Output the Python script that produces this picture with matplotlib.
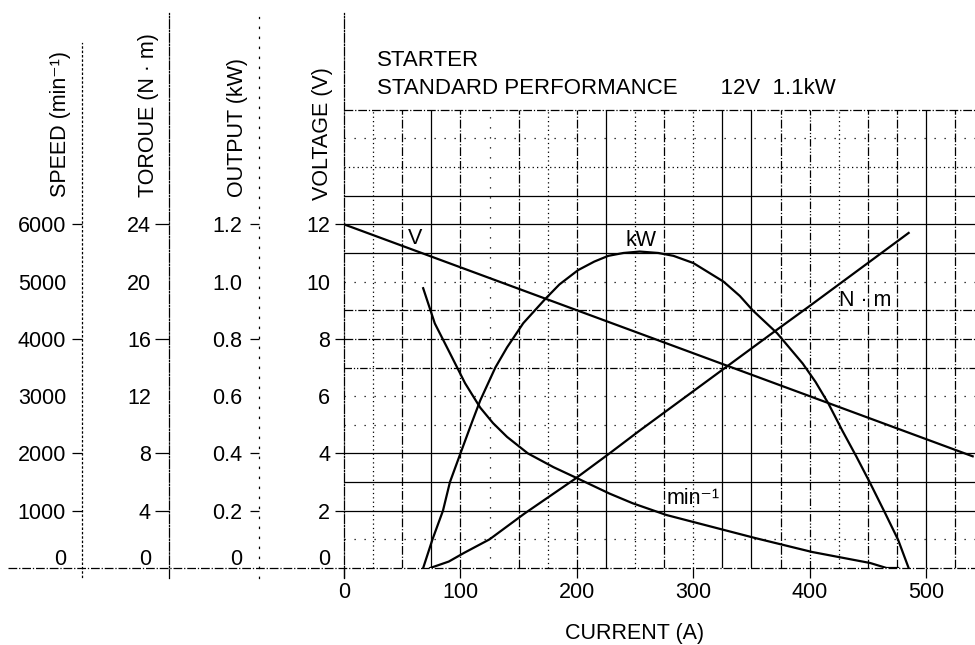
import matplotlib
matplotlib.use("Agg")
import matplotlib.pyplot as plt
from matplotlib.transforms import ScaledTranslation

plt.rcParams['font.family'] = ['Liberation Sans', 'DejaVu Sans']
plt.rcParams['font.size'] = 15.5

# ---- data ----
current_v = [0, 100, 200, 300, 400, 500, 540]
voltage = [12.0, 10.5, 9.0, 7.5, 6.0, 4.5, 3.9]

current_kw = [68, 76, 85, 91, 100, 110, 117, 130, 140, 154, 173, 185, 201, 215, 227,
              240, 254, 270, 283, 300, 326, 340, 351, 372, 394, 405, 416, 428,
              440, 452, 465, 476, 485]
output_kw = [0, 0.10, 0.20, 0.30, 0.40, 0.51, 0.585, 0.70, 0.77, 0.855, 0.94, 0.99,
             1.04, 1.07, 1.09, 1.10, 1.105, 1.10, 1.09, 1.065, 1.00, 0.95, 0.90,
             0.82, 0.714, 0.65, 0.575, 0.48, 0.39, 0.296, 0.19, 0.098, 0]

current_nm = [74, 90, 103, 125, 155, 198, 228, 254, 327, 370, 400, 455, 485]
torque_nm = [0, 0.45, 1.05, 2.0, 3.8, 6.2, 8.0, 9.6, 13.96, 16.53, 18.3, 21.6, 23.4]

current_rpm = [68, 78, 91, 104, 117, 128, 140, 158, 180, 200, 228, 248, 277,
               353, 402, 452, 466, 476]
speed_rpm = [4885, 4270, 3750, 3226, 2800, 2530, 2290, 2000, 1760, 1570, 1300,
             1130, 925, 524, 280, 87, 0, 0]

current_ticks = [0, 100, 200, 300, 400, 500]
volt_ticks = [0, 2, 4, 6, 8, 10, 12]
speed_ticks = [0, 1000, 2000, 3000, 4000, 5000, 6000]
torque_ticks = [0, 4, 8, 12, 16, 20, 24]
output_ticks = [0, 0.2, 0.4, 0.6, 0.8, 1.0, 1.2]
output_labels = ['0', '0.2', '0.4', '0.6', '0.8', '1.0', '1.2']

# grid line styles, 25 A steps (25..525) and 1 V steps (1..16)
vgrid = ['dotted', 'dashdot', 'solid', 'dashdot', 'sparse', 'dashdot', 'dotted',
         'dashdot', 'solid', 'dotted', 'dashdot', 'dotted', 'solid', 'solid',
         'dashdot', 'dashdot2', 'dotted', 'dashdot', 'dashdot', 'solid', 'dashdot']
hgrid = ['sparse', 'solid', 'solid', 'solid', 'sparse', 'sparse', 'dashdot2',
         'dashdot', 'dashdot', 'sparse', 'solid', 'solid', 'solid', 'dotted',
         'sparse', 'dashdot']

LS = {
    'solid': '-',
    'dashdot': (0, (7, 1.5, 1, 1.5)),
    'dashdot2': (0, (6, 1.5, 1, 1.5, 1, 1.5)),
    'dotted': (0, (1, 2.5)),
    'sparse': (0, (1, 7)),
}

W, H = 975, 645
left, right, bottom, top = 344, 975, 568, 13
vtop = 19.38

fig = plt.figure(figsize=(W / 100, H / 100), dpi=100)
ax = fig.add_axes([left / W, (H - bottom) / H, (right - left) / W, (bottom - top) / H])
ax.set_xlim(0, 542)
ax.set_ylim(0, vtop)

# grid
for i, st in enumerate(vgrid):
    ax.vlines(25 * (i + 1), 0, 16, colors='k', linewidth=0.9, linestyles=[LS[st]])
for i, st in enumerate(hgrid):
    ax.axhline(i + 1, color='k', linewidth=0.9, linestyle=LS[st])

# base line running under all scales
ax.plot([-0.5325, 1], [0, 0], transform=ax.get_yaxis_transform(), color='k',
        linewidth=0.9, linestyle=LS['dashdot'], clip_on=False)

for s in ['top', 'right', 'bottom']:
    ax.spines[s].set_visible(False)

# curves
lw = 1.6
ax.plot(current_v, voltage, color='k', linewidth=lw)
ax.plot(current_kw, [p * 10 for p in output_kw], color='k', linewidth=lw)
ax.plot(current_nm, [t / 2 for t in torque_nm], color='k', linewidth=lw)
ax.plot(current_rpm, [s / 500 for s in speed_rpm], color='k', linewidth=lw)

ax.text(61, 11.52, 'V', ha='center', va='center', fontsize=15.5)
ax.text(255, 11.44, 'kW', ha='center', va='center', fontsize=15.5)
ax.text(448, 9.35, 'N · m', ha='center', va='center', fontsize=15.5)
ax.text(300, 2.43, 'min⁻¹', ha='center', va='center', fontsize=15.5)

ax.text(28.4, 17.73, 'STARTER', ha='left', va='center', fontsize=16)
ax.text(28.4, 16.75, 'STANDARD PERFORMANCE       12V  1.1kW', ha='left',
        va='center', fontsize=16)

# current axis
ax.set_xticks(current_ticks)
ax.tick_params(axis='x', direction='out', length=7, width=0.9, pad=3)
ax.set_xlabel('CURRENT (A)', fontsize=15.5)
ax.xaxis.set_label_coords(0.46, -0.1)


def setup_scale(a, ticks, labels, marked, spine_x, spine_ls, bounds,
                pad, mark_len, label_text, label_x, label_y):
    a.yaxis.remove_overlapping_locs = False
    a.set_yticks(ticks)
    a.set_yticklabels(labels)
    a.set_yticks(marked, minor=True)
    a.yaxis.set_ticks_position('left')
    a.tick_params(axis='y', which='major', length=0, pad=pad)
    a.tick_params(axis='y', which='minor', length=mark_len, width=0.9,
                  direction='out')
    sp = a.spines['left']
    sp.set_position(('axes', spine_x))
    sp.set_linestyle(spine_ls)
    sp.set_linewidth(0.9)
    sp.set_bounds(*bounds)
    a.set_ylabel(label_text, fontsize=15.5)
    a.yaxis.label.set_ha('left')
    a.yaxis.label.set_va('center')
    a.yaxis.set_label_coords(label_x, label_y)
    # zero labels sit just above the base line
    t0 = a.yaxis.get_major_ticks()[0]
    t0.label1.set_transform(t0.label1.get_transform() +
                            ScaledTranslation(0, 0.11, fig.dpi_scale_trans))


setup_scale(ax, volt_ticks, [str(v) for v in volt_ticks], [2, 4, 8, 12],
            0, LS['dashdot'], (-0.35, vtop), 10, 6.5, 'VOLTAGE (V)',
            -0.0333, 0.663)

scales = [
    (500, speed_ticks, [str(v) for v in speed_ticks], [1000, 2000, 4000, 6000],
     -0.4152, LS['dotted'], (-0.3, 18.33), 11.5, 7.2, 'SPEED (min⁻¹)', -0.450),
    (2, torque_ticks, [str(v) for v in torque_ticks], [4, 8, 16, 24],
     -0.2773, LS['dashdot'], (-0.35, vtop), 13, 10, 'TOROUE (N · m)', -0.3106),
    (0.1, output_ticks, output_labels, [0.2, 0.4, 0.8, 1.2],
     -0.1347, LS['sparse'], (-0.35, 19.24), 12, 6.5, 'OUTPUT (kW)', -0.168),
]
for k, ticks, labels, marked, sx, sls, bnd, pad, ml, lab, lx in scales:
    tw = ax.twinx()
    tw.set_ylim(0, vtop * k)
    for s in ['top', 'right', 'bottom']:
        tw.spines[s].set_visible(False)
    tw.spines['left'].set_visible(True)
    setup_scale(tw, ticks, labels, marked, sx, sls, (bnd[0] * k, bnd[1] * k),
                pad, ml, lab, lx, 0.6685)

fig.savefig('out.png', dpi=100)
